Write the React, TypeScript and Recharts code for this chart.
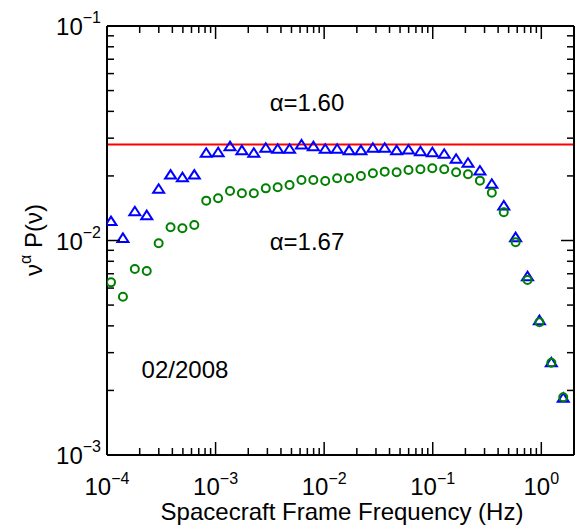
import { ScatterChart, Scatter, XAxis, YAxis, ReferenceLine } from 'recharts';

const freq = [
  1.089e-4, 1.402e-4, 1.805e-4, 2.323e-4, 2.99e-4, 3.85e-4, 4.95e-4, 6.37e-4, 8.2e-4,
  1.055e-3, 1.358e-3, 1.748e-3, 2.25e-3, 2.9e-3, 3.73e-3, 4.8e-3, 6.18e-3, 7.95e-3,
  1.023e-2, 1.317e-2, 1.695e-2, 2.18e-2, 2.81e-2, 3.61e-2, 4.65e-2, 5.98e-2, 7.7e-2,
  9.91e-2, 0.1276, 0.1642, 0.2113, 0.272, 0.35, 0.451, 0.58, 0.746, 0.961, 1.237, 1.592,
];

// alpha = 1.60 compensated spectrum (triangles)
const triValues = [
  0.01225, 0.01023, 0.01362, 0.01306, 0.01733, 0.02018, 0.01963, 0.02018, 0.02551,
  0.02566, 0.02738, 0.02624, 0.02551, 0.02692, 0.02661, 0.02661, 0.02789, 0.02738,
  0.02661, 0.02661, 0.02624, 0.02624, 0.02692, 0.02692, 0.02624, 0.02642, 0.02594,
  0.02566, 0.02523, 0.02392, 0.02291, 0.02109, 0.01828, 0.01449, 0.01031, 0.00678,
  0.00423, 0.00269, 0.00184,
];

// alpha = 1.67 compensated spectrum (circles)
const circValues = [
  0.00638, 0.00547, 0.00736, 0.00721, 0.0097, 0.01153, 0.0114, 0.01181, 0.01534,
  0.01574, 0.01701, 0.0166, 0.0166, 0.0175, 0.0177, 0.01815, 0.01914, 0.01914,
  0.01893, 0.0195, 0.0195, 0.02, 0.02058, 0.02094, 0.0208, 0.02132, 0.02148,
  0.02172, 0.02148, 0.0208, 0.02036, 0.01901, 0.01671, 0.01353, 0.00981, 0.00655,
  0.00416, 0.00269, 0.00186,
];

const flatLevel = 0.028;

const xMajor = [1e-4, 1e-3, 1e-2, 1e-1, 1];
const yMajor = [1e-3, 1e-2, 1e-1];
const minorMult = [2, 3, 4, 5, 6, 7, 8, 9];

const xDomain = [1e-4, 2];
const yDomain = [1e-3, 1e-1];

const withMinors = (majors: number[], max: number) => {
  const out: number[] = [];
  majors.forEach((m) => {
    out.push(m);
    minorMult.forEach((k) => {
      if (m * k <= max * 1.0001) out.push(m * k);
    });
  });
  return out.filter((v) => v <= max * 1.0001);
};

const xTicks = withMinors(xMajor, 2);
const yTicks = withMinors(yMajor, 0.1);

const triData = freq.map((f, i) => ({ f, v: triValues[i] }));
const circData = freq.map((f, i) => ({ f, v: circValues[i] }));

const FONT = '"Liberation Sans", Arial, sans-serif';
const BIG = 24;
const SUP = 16;

const expOf = (v: number) => Math.round(Math.log10(v));
const isMajor = (v: number) => Math.abs(Math.log10(v) - expOf(v)) < 1e-6;
const expText = (v: number) => {
  const e = expOf(v);
  return e < 0 ? `\u2212${-e}` : `${e}`;
};

const BottomTick = (props: any) => {
  const { x, y, payload } = props;
  const major = isMajor(payload.value);
  return (
    <g>
      <line x1={x} x2={x} y1={y} y2={y - (major ? 13 : 7)} stroke="#000" strokeWidth={1.5} />
      {major && (
        <text x={x} y={y + 40} textAnchor="middle" fontSize={BIG} fontFamily={FONT} fill="#000">
          10
          <tspan dy={-11} fontSize={SUP}>
            {expText(payload.value)}
          </tspan>
        </text>
      )}
    </g>
  );
};

const TopTick = (props: any) => {
  const { x, y, payload } = props;
  const major = isMajor(payload.value);
  return <line x1={x} x2={x} y1={y} y2={y + (major ? 13 : 7)} stroke="#000" strokeWidth={1.5} />;
};

const LeftTick = (props: any) => {
  const { x, y, payload } = props;
  const major = isMajor(payload.value);
  return (
    <g>
      <line x1={x} x2={x + (major ? 13 : 7)} y1={y} y2={y} stroke="#000" strokeWidth={1.5} />
      {major && (
        <text x={x - 6} y={y + 9} textAnchor="end" fontSize={BIG} fontFamily={FONT} fill="#000">
          10
          <tspan dy={-12} fontSize={SUP}>
            {expText(payload.value)}
          </tspan>
        </text>
      )}
    </g>
  );
};

const RightTick = (props: any) => {
  const { x, y, payload } = props;
  const major = isMajor(payload.value);
  return <line x1={x} x2={x - (major ? 13 : 7)} y1={y} y2={y} stroke="#000" strokeWidth={1.5} />;
};

const Triangle = (props: any) => {
  const { cx, cy } = props;
  const s = 5;
  return (
    <polygon
      points={`${cx},${cy - s} ${cx - s - 0.5},${cy + s * 0.7} ${cx + s + 0.5},${cy + s * 0.7}`}
      fill="none"
      stroke="#0000ff"
      strokeWidth={2}
    />
  );
};

const Ring = (props: any) => {
  const { cx, cy } = props;
  return <circle cx={cx} cy={cy} r={4} fill="none" stroke="#008000" strokeWidth={2} />;
};

const Nothing = () => <g />;

export default function App() {
  return (
    <div style={{ position: 'absolute', left: 0, top: 0, background: '#fff' }}>
      <ScatterChart
        width={577}
        height={527}
        margin={{ top: 25, right: 2, left: 0, bottom: 0 }}
        style={{ fontFamily: FONT }}
      >
        <XAxis
          xAxisId={0}
          dataKey="f"
          type="number"
          scale="log"
          domain={xDomain}
          allowDataOverflow
          ticks={xTicks}
          interval={0}
          tickSize={0}
          tickMargin={0}
          tickLine={false}
          tick={<BottomTick />}
          height={72}
          axisLine={{ stroke: '#000', strokeWidth: 2 }}
          label={() => (
            <text x={342} y={520} textAnchor="middle" fontSize={BIG} fontFamily={FONT} fill="#000">
              Spacecraft Frame Frequency (Hz)
            </text>
          )}
        />
        <XAxis
          xAxisId="top"
          orientation="top"
          dataKey="f"
          type="number"
          scale="log"
          domain={xDomain}
          allowDataOverflow
          ticks={xTicks}
          interval={0}
          tickSize={0}
          tickMargin={0}
          tickLine={false}
          tick={<TopTick />}
          height={1}
          axisLine={{ stroke: '#000', strokeWidth: 2 }}
        />
        <YAxis
          yAxisId={0}
          dataKey="v"
          type="number"
          scale="log"
          domain={yDomain}
          allowDataOverflow
          ticks={yTicks}
          interval={0}
          tickSize={0}
          tickMargin={0}
          tickLine={false}
          tick={<LeftTick />}
          width={107}
          axisLine={{ stroke: '#000', strokeWidth: 2 }}
          label={() => (
            <text
              transform="translate(42,240) rotate(-90)"
              textAnchor="middle"
              fontSize={BIG}
              fontFamily={FONT}
              fill="#000"
            >
              ν
              <tspan dy={-11} fontSize={SUP}>
                α
              </tspan>
              <tspan dy={11}> P(ν)</tspan>
            </text>
          )}
        />
        <YAxis
          yAxisId="right"
          orientation="right"
          dataKey="v"
          type="number"
          scale="log"
          domain={yDomain}
          allowDataOverflow
          ticks={yTicks}
          interval={0}
          tickSize={0}
          tickMargin={0}
          tickLine={false}
          tick={<RightTick />}
          width={1}
          axisLine={{ stroke: '#000', strokeWidth: 2 }}
        />
        <ReferenceLine y={flatLevel} stroke="#ff0000" strokeWidth={2} />
        <Scatter
          data={triData}
          xAxisId="top"
          yAxisId="right"
          shape={<Nothing />}
          isAnimationActive={false}
        />
        <Scatter data={triData} shape={<Triangle />} isAnimationActive={false} />
        <Scatter data={circData} shape={<Ring />} isAnimationActive={false} />
        <text x={307} y={111} textAnchor="middle" fontSize={BIG} fontFamily={FONT} fill="#000">
          α=1.60
        </text>
        <text x={307} y={250} textAnchor="middle" fontSize={BIG} fontFamily={FONT} fill="#000">
          α=1.67
        </text>
        <text x={185} y={378} textAnchor="middle" fontSize={BIG} fontFamily={FONT} fill="#000">
          02/2008
        </text>
      </ScatterChart>
    </div>
  );
}
